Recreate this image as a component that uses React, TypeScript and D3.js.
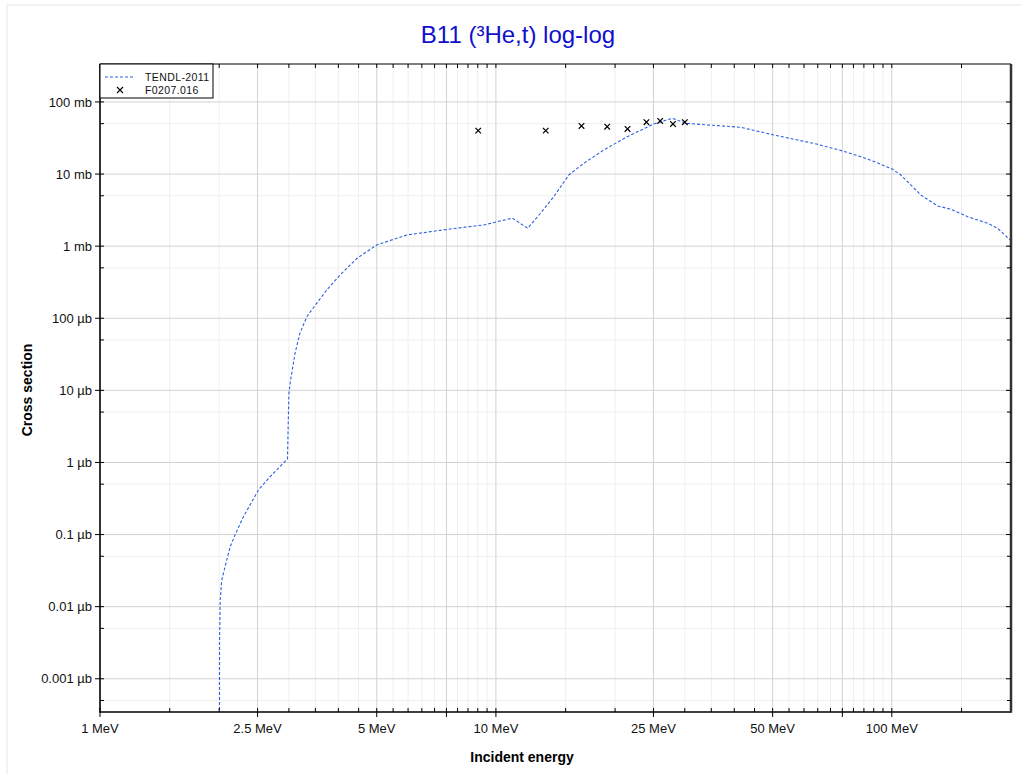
import React from "react";
import * as d3 from "d3";

// TENDL-2011 evaluated cross section (energy in MeV, cross section in mb)
const tendlE = [2.003, 2.004, 2.012, 2.03, 2.07, 2.132, 2.194, 2.303, 2.514, 2.69, 2.975, 3.0, 3.03, 3.11, 3.2, 3.33, 3.5, 3.74, 4.04, 4.46, 5.0, 5.96, 7.53, 9.32, 11.0, 12.03, 12.96, 14.0, 15.28, 16.67, 18.74, 21.47, 25.06, 27.9, 30.14, 34.2, 41.5, 50.4, 64.9, 75.1, 83.5, 90.2, 100.4, 105.4, 118.4, 130.5, 141, 155.4, 174.6, 185, 200];
const tendlXS = [1e-9, 3e-6, 1.25e-5, 2.34e-5, 3.59e-5, 6.8e-5, 9.9e-5, 1.77e-4, 4.16e-4, 6.35e-4, 1.12e-3, 9e-3, 0.0139, 0.033, 0.0625, 0.105, 0.153, 0.247, 0.399, 0.679, 1.04, 1.43, 1.71, 1.97, 2.45, 1.77, 2.86, 4.86, 9.7, 14.1, 21.6, 33.0, 49.5, 59.4, 50.7, 48.0, 44.6, 34.8, 25.9, 20.9, 17.4, 14.9, 11.66, 9.7, 5.13, 3.61, 3.25, 2.56, 2.08, 1.77, 1.19];

// EXFOR F0207.016 measured points
const expE = [9.02, 13.36, 16.45, 19.1, 21.5, 24.0, 26.0, 28.0, 30.0];
const expXS = [40.0, 40.0, 46.4, 45.4, 42.2, 52.3, 54.5, 49.5, 52.3];

// Axis ticks
const xMajorTicks = [1, 2.5, 5, 7.5, 10, 25, 50, 75, 100];
const xMajorLabels = ["1 MeV", "2.5 MeV", "5 MeV", "", "10 MeV", "25 MeV", "50 MeV", "", "100 MeV"];
const xMinorTicks = [1.5, 2, 3, 3.5, 4, 4.5, 5.5, 6, 6.5, 7, 8, 8.5, 9, 9.5, 15, 20, 30, 35, 40, 45, 55, 60, 65, 70, 80, 85, 90, 95, 150];
const yMajorTicks = [100, 10, 1, 0.1, 0.01, 0.001, 1e-4, 1e-5, 1e-6];
const yMajorLabels = ["100 mb", "10 mb", "1 mb", "100 µb", "10 µb", "1 µb", "0.1 µb", "0.01 µb", "0.001 µb"];
const yMinorTicks = [50, 5, 0.5, 0.05, 0.005, 5e-4, 5e-5, 5e-6, 5e-7];

const seriesNames = ["TENDL-2011", "F0207.016"];

export default function App() {
  const W = 1022, H = 774;
  const L = 100, R = 1011, T = 64, B = 712;
  const x = d3.scaleLog().domain([1, 200]).range([L, R]);
  const y = d3.scaleLog().domain([3.46e-7, 336]).range([B, T]);

  const line = d3.line<number>()
    .x((_, i) => x(tendlE[i]))
    .y((_, i) => y(Math.max(tendlXS[i], 1e-12)));
  const path = line(tendlXS) || "";

  const font = "'Liberation Sans', Arial, sans-serif";
  const blue = "#2f5fe0";

  return (
    <svg width={W} height={H} style={{ position: "absolute", left: 0, top: 0, background: "#fff" }} fontFamily={font}>
      <defs>
        <clipPath id="plotclip">
          <rect x={L} y={T} width={R - L} height={B - T} />
        </clipPath>
      </defs>
      {/* outer frame */}
      <line x1={7} y1={5} x2={W} y2={5} stroke="#e6e6e6" />
      <line x1={7} y1={5} x2={7} y2={H} stroke="#e6e6e6" />

      {/* title */}
      <text x={518} y={43} textAnchor="middle" fontSize={24} fill="#1010cc">B11 (³He,t) log-log</text>

      {/* minor grid */}
      {xMinorTicks.map((v, i) => (
        <line key={"xmg" + i} x1={x(v)} x2={x(v)} y1={T} y2={B} stroke="#efefef" />
      ))}
      {yMinorTicks.map((v, i) => (
        <line key={"ymg" + i} x1={L} x2={R} y1={y(v)} y2={y(v)} stroke="#efefef" />
      ))}
      {/* major grid */}
      {xMajorTicks.map((v, i) => (
        <line key={"xMg" + i} x1={x(v)} x2={x(v)} y1={T} y2={B} stroke="#d2d2d2" />
      ))}
      {yMajorTicks.map((v, i) => (
        <line key={"yMg" + i} x1={L} x2={R} y1={y(v)} y2={y(v)} stroke="#d2d2d2" />
      ))}

      {/* TENDL curve */}
      <g clipPath="url(#plotclip)">
        <path d={path} fill="none" stroke={blue} strokeWidth={1.1} strokeDasharray="3,2" />
      </g>

      {/* experimental points */}
      {expE.map((e, i) => {
        const cx = x(e), cy = y(expXS[i]);
        const s = 2.8;
        return (
          <path key={"p" + i} d={`M${cx - s},${cy - s}L${cx + s},${cy + s}M${cx - s},${cy + s}L${cx + s},${cy - s}`} stroke="#000" strokeWidth={1.2} fill="none" />
        );
      })}

      {/* frame */}
      <line x1={L} x2={R} y1={T} y2={T} stroke="#000" strokeWidth={1} />
      <line x1={L} x2={R} y1={B} y2={B} stroke="#000" strokeWidth={1.5} />
      <line x1={L} x2={L} y1={T} y2={B + 0.75} stroke="#333" strokeWidth={2} />
      <line x1={R} x2={R} y1={T} y2={B + 0.75} stroke="#333" strokeWidth={2.5} />

      {/* x ticks */}
      {xMajorTicks.map((v, i) => (
        <g key={"xt" + i}>
          <line x1={x(v)} x2={x(v)} y1={B - 4} y2={B + 5} stroke="#000" />
          <line x1={x(v)} x2={x(v)} y1={T} y2={T + 4} stroke="#000" />
          {xMajorLabels[i] && (
            <text x={x(v)} y={733} textAnchor="middle" fontSize={13} fill="#111">{xMajorLabels[i]}</text>
          )}
        </g>
      ))}
      {xMinorTicks.map((v, i) => (
        <g key={"xmt" + i}>
          <line x1={x(v)} x2={x(v)} y1={B - 4} y2={B} stroke="#000" />
          <line x1={x(v)} x2={x(v)} y1={T} y2={T + 4} stroke="#000" />
        </g>
      ))}
      {/* y ticks */}
      {yMajorTicks.map((v, i) => (
        <g key={"yt" + i}>
          <line x1={L - 5} x2={L + 4} y1={y(v)} y2={y(v)} stroke="#000" />
          <line x1={R - 5} x2={R} y1={y(v)} y2={y(v)} stroke="#000" />
          <text x={92} y={y(v)} dy="0.35em" textAnchor="end" fontSize={13} fill="#111">{yMajorLabels[i]}</text>
        </g>
      ))}
      {yMinorTicks.map((v, i) => (
        <g key={"ymt" + i}>
          <line x1={L} x2={L + 4} y1={y(v)} y2={y(v)} stroke="#000" />
          <line x1={R - 4} x2={R} y1={y(v)} y2={y(v)} stroke="#000" />
        </g>
      ))}

      {/* axis titles */}
      <text x={522} y={762} textAnchor="middle" fontSize={14} fontWeight="bold" fill="#000">Incident energy</text>
      <text transform="translate(32,390) rotate(-90)" textAnchor="middle" fontSize={14} fontWeight="bold" fill="#000">Cross section</text>

      {/* legend */}
      <rect x={L} y={T} width={113} height={34} fill="#fff" stroke="#000" strokeWidth={1} />
      <line x1={105} x2={133} y1={77} y2={77} stroke={blue} strokeWidth={1.1} strokeDasharray="3,2" />
      <text x={145} y={77} dy="0.35em" fontSize={10.5} fill="#111" letterSpacing={0.4}>{seriesNames[0]}</text>
      <path d="M117,87L123,93M117,93L123,87" stroke="#000" strokeWidth={1.1} fill="none" />
      <text x={145} y={90} dy="0.35em" fontSize={10.5} fill="#111" letterSpacing={0.4}>{seriesNames[1]}</text>
    </svg>
  );
}
